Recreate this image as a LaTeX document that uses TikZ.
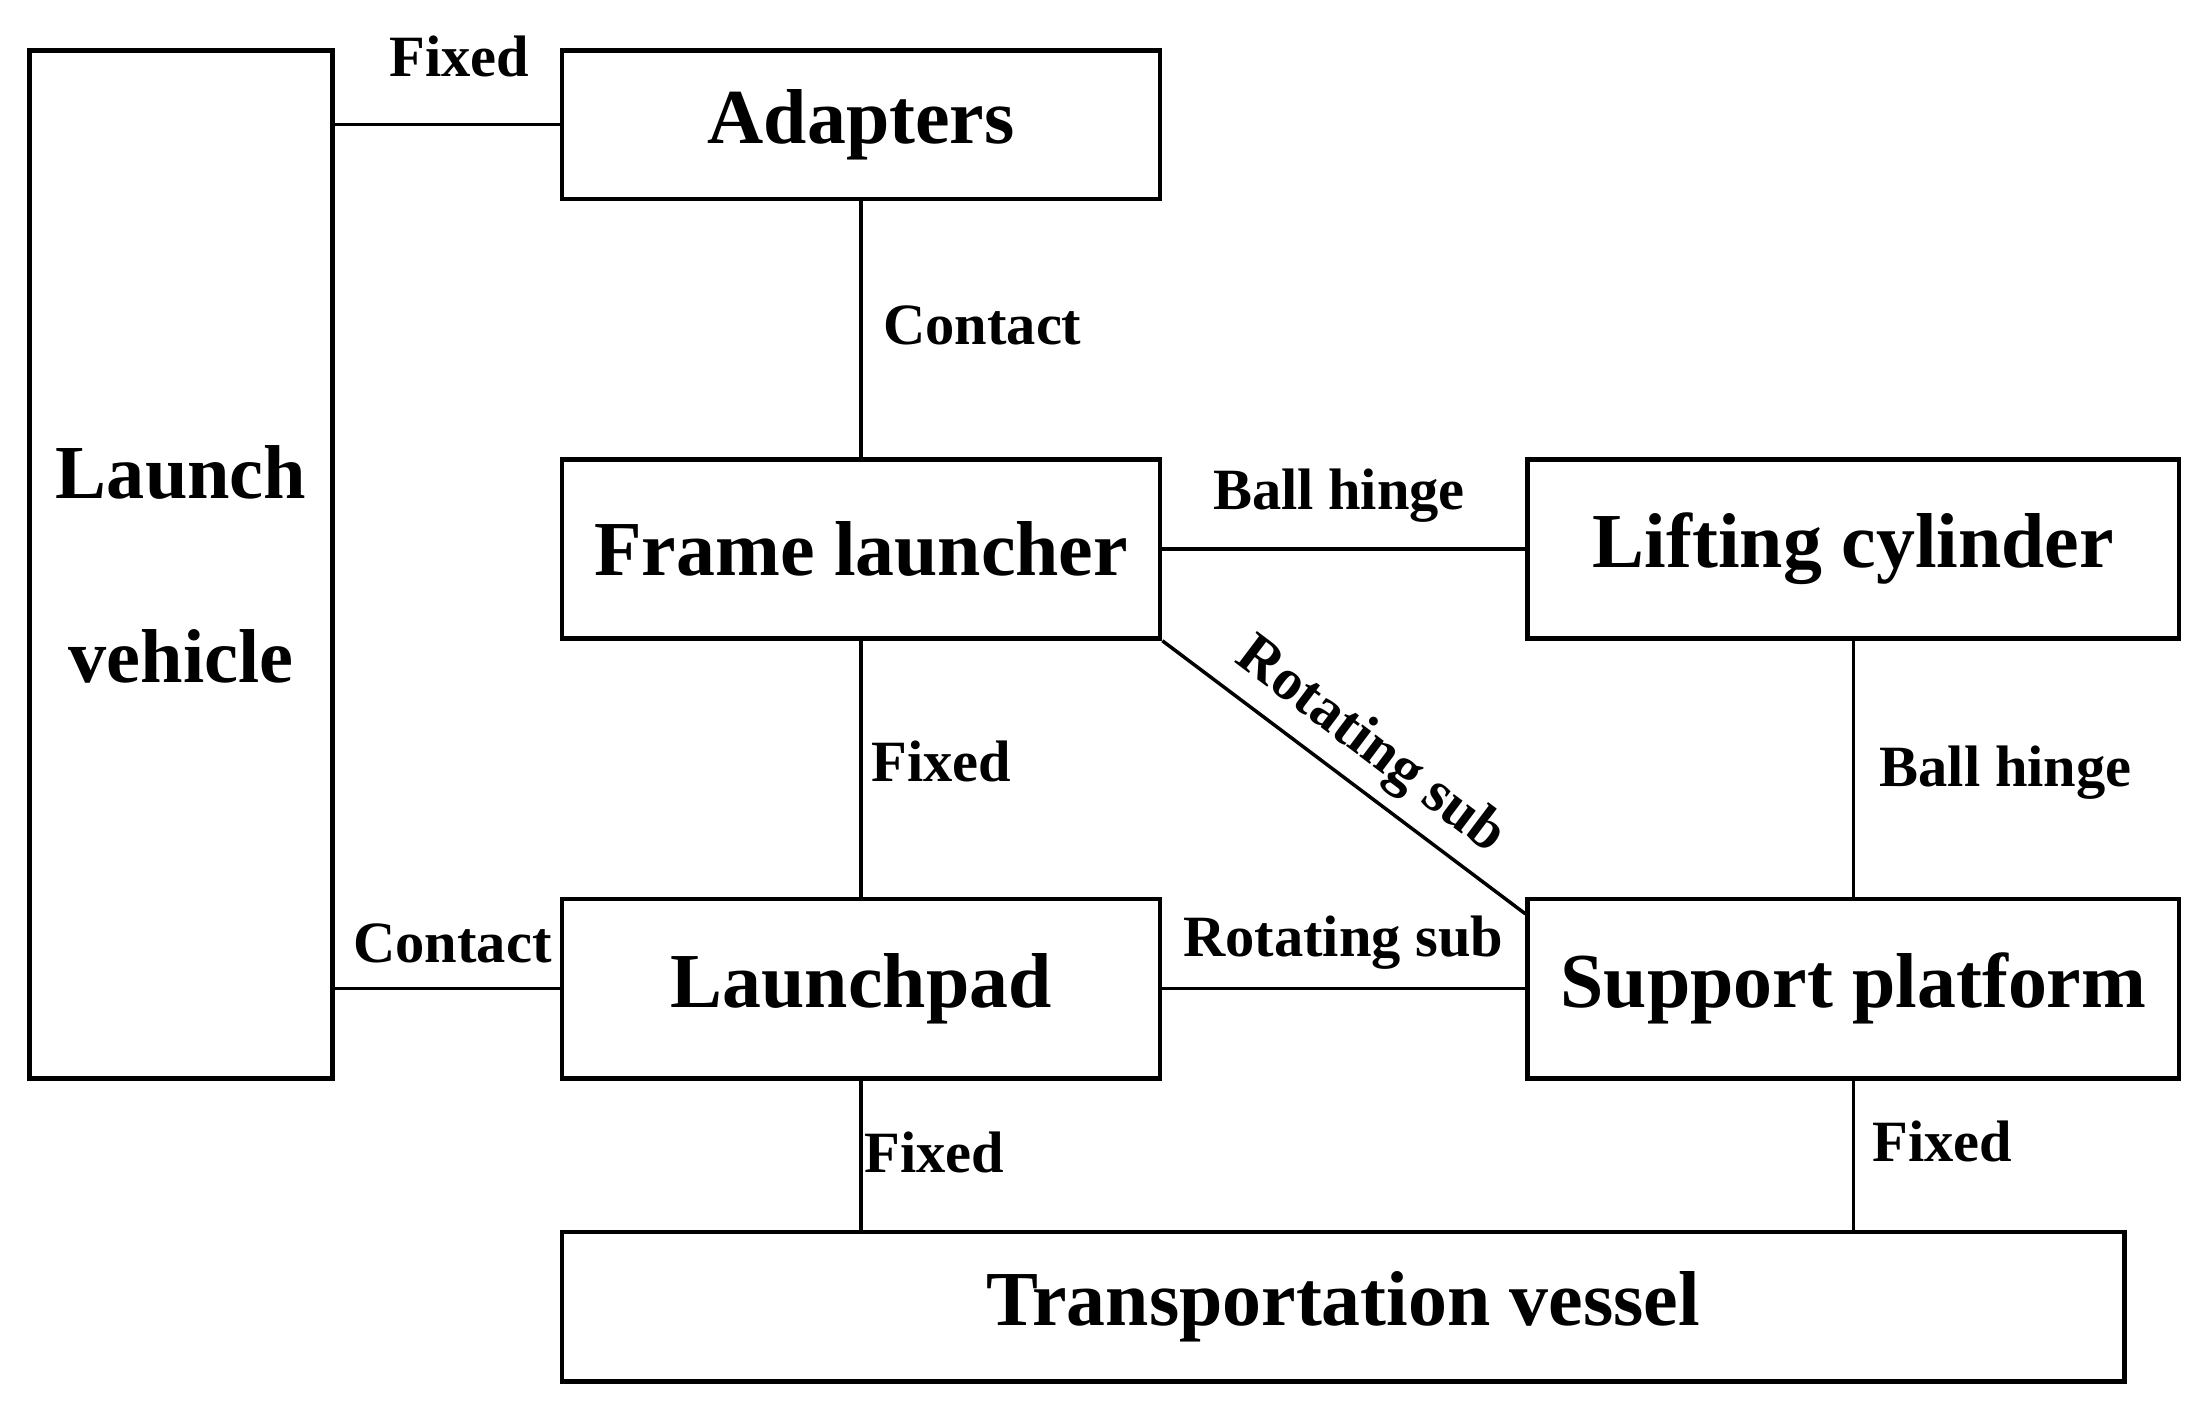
\documentclass[tikz,border=0pt]{standalone}
\usepackage{fontspec}
\setmainfont{Liberation Serif}
\begin{document}
\begin{tikzpicture}[x=0.01cm,y=-0.01cm,line width=0.7pt,
 box/.style={draw,line width=0.9pt,font=\fontsize{15.7}{18}\selectfont\bfseries,align=center},
 lab/.style={font=\fontsize{11.8}{13}\selectfont\bfseries,inner sep=0pt}]
\useasboundingbox (0,0) rectangle (1568,1005);
\node[box,minimum height=7.29cm,minimum width=2.15cm,inner sep=0pt,font=\fontsize{15.4}{37}\selectfont\bfseries] (lv) at (128.5,400.5) {Launch\\vehicle};
\node[box,minimum width=4.24cm,minimum height=1.05cm] (ad) at (611,88.5) {Adapters};
\node[box,minimum width=4.24cm,minimum height=1.27cm] (fl) at (611,389.5) {Frame launcher};
\node[box,minimum width=4.62cm,minimum height=1.27cm] (lc) at (1315,389.5) {Lifting cylinder};
\node[box,minimum width=4.24cm,minimum height=1.27cm] (lp) at (611,701.5) {Launchpad};
\node[box,minimum width=4.62cm,minimum height=1.27cm] (sp) at (1315,701.5) {Support platform};
\node[box,minimum width=11.08cm,minimum height=1.06cm] (tv) at (953,927) {Transportation vessel};
\draw (lv.east |- ad.west) -- (ad.west);
\draw (lv.east |- lp.west) -- (lp.west);
\draw (ad.south) -- (fl.north);
\draw (fl.east) -- (lc.west);
\draw (fl.south) -- (lp.north);
\draw (fl.south east) -- ([yshift=-0.12cm]sp.north west);
\draw (lp.east) -- (sp.west);
\draw (lc.south) -- (sp.north);
\draw (lp.south) -- (lp.south |- tv.north);
\draw (sp.south) -- (sp.south |- tv.north);
\node[lab] at (326,40) {Fixed};
\node[lab] at (321,669) {Contact};
\node[lab] at (697,231) {Contact};
\node[lab] at (950,352) {Ball hinge};
\node[lab] at (668,540) {Fixed};
\node[lab,rotate=-37] at (972,530) {Rotating sub};
\node[lab] at (953,669) {Rotating sub};
\node[lab] at (1423,548) {Ball hinge};
\node[lab] at (663,818) {Fixed};
\node[lab] at (1378,810) {Fixed};
\end{tikzpicture}
\end{document}
